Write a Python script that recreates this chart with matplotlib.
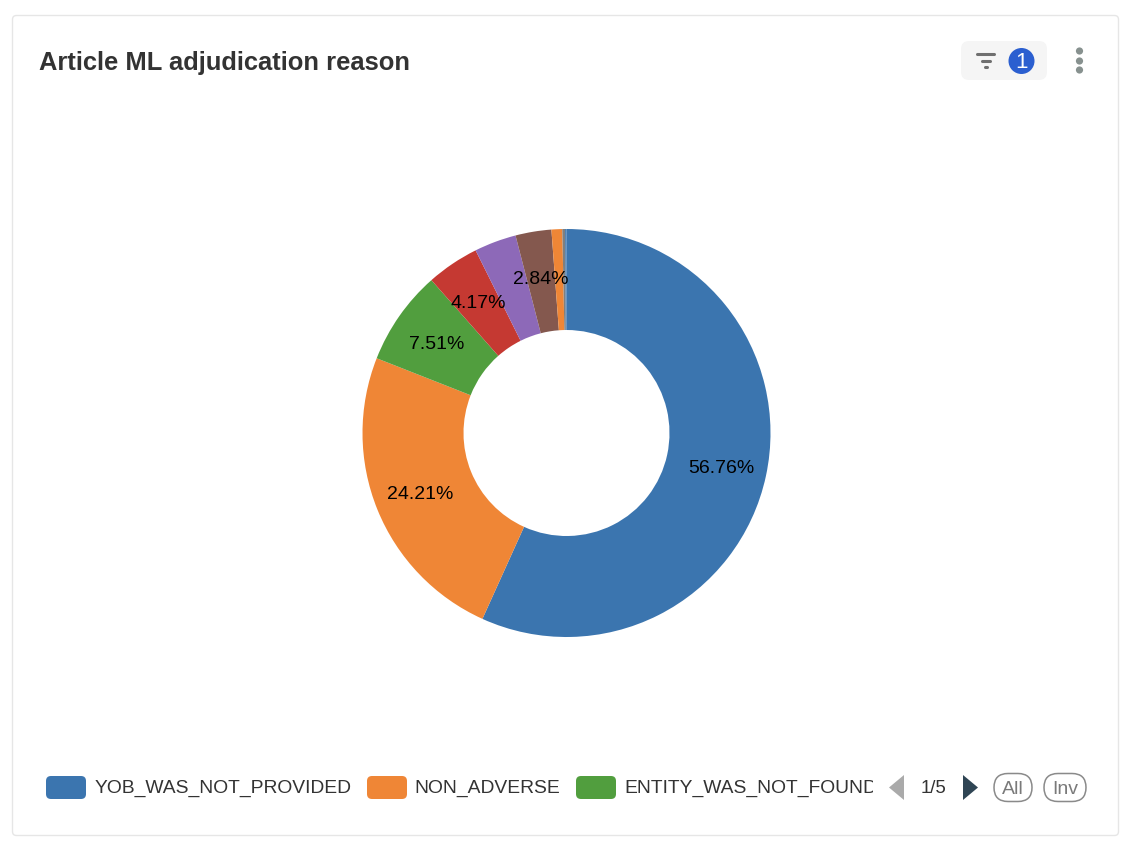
import math
import matplotlib
matplotlib.use("Agg")
import matplotlib.pyplot as plt
from matplotlib.patches import FancyBboxPatch, Rectangle, Circle, Polygon

plt.rcParams['font.family'] = ['Liberation Sans', 'DejaVu Sans']

W, H = 1132, 850

# Data
title = "Article ML adjudication reason"
shares = [56.76, 24.21, 7.51, 4.17, 3.33, 2.84, 0.85, 0.22, 0.11]
slice_labels = ["56.76%", "24.21%", "7.51%", "4.17%", "", "2.84%", "", "", ""]
slice_colors = ["#3b75af", "#ef8636", "#519e3e", "#c53932", "#8d69b8",
                "#84584e", "#ef8636", "#7f7f7f", "#3b75af"]
legend_names = ["YOB_WAS_NOT_PROVIDED", "NON_ADVERSE", "ENTITY_WAS_NOT_FOUND"]
legend_colors = ["#3b75af", "#ef8636", "#519e3e"]
page_text = "1/5"
filter_count = "1"

fig = plt.figure(figsize=(W / 100, H / 100), dpi=100, facecolor="white")

# page layer in pixel coordinates, y going down
bg = fig.add_axes([0, 0, 1, 1])
bg.set_xlim(0, W)
bg.set_ylim(H, 0)
bg.axis("off")


def rounded(ax, x, y, w, h, r, **kw):
    p = FancyBboxPatch((x + r, y + r), w - 2 * r, h - 2 * r,
                       boxstyle="round,pad=%s,rounding_size=%s" % (r, r), **kw)
    ax.add_patch(p)
    return p


# card
rounded(bg, 12.5, 15.5, 1106, 820, 4, fc="white", ec="#e6e6e6", lw=1)
bg.text(39, 62.5, title, fontsize=18.4, fontweight="bold", color="#333333", va="center", ha="left")

# filter button
rounded(bg, 961, 41, 86, 39, 8, fc="#f5f5f5", ec="none")
for y, x0, x1 in [(54, 977, 994), (60.5, 981.5, 990), (66.5, 984.5, 986.5)]:
    bg.plot([x0, x1], [y, y], color="#6f6f6f", lw=2.2, solid_capstyle="round")
bg.add_patch(Circle((1021.5, 61), 13, fc="#2b5fd0", ec="none"))
bg.text(1021.5, 62, filter_count, fontsize=16, color="white", ha="center", va="center")

# kebab menu
for y in [51, 61, 70]:
    bg.add_patch(Circle((1079.5, y), 3.6, fc="#87918f", ec="none"))

# legend
x_swatches = [46, 367, 576]
x_names = [95, 414.5, 624.5]
for i in range(len(legend_names)):
    rounded(bg, x_swatches[i], 776, 40, 23, 5, fc=legend_colors[i], ec="none")
    t = bg.text(x_names[i], 788, legend_names[i], fontsize=13.85, color="#333333",
                ha="left", va="center")
    if i == 2:
        # last name is cut off by the legend's scroll area
        t.set_clip_on(True)
        t.set_clip_path(Rectangle((x_names[i], 770), 248.5, 36, transform=bg.transData))

# pager
bg.add_patch(Polygon([[904, 775], [904, 800], [889, 787.5]], fc="#aaaaaa", ec="none"))
bg.add_patch(Polygon([[963, 775], [963, 800], [978, 787.5]], fc="#2f4554", ec="none"))
bg.text(933.5, 788.5, page_text, fontsize=13.4, color="#333333", ha="center", va="center")
rounded(bg, 994, 773.5, 38, 28, 14, fc="white", ec="#8a8a8a", lw=1.1)
bg.text(1013, 789, "All", fontsize=14, color="#7a7a7a", ha="center", va="center")
rounded(bg, 1044, 773.5, 42, 28, 14, fc="white", ec="#8a8a8a", lw=1.1)
bg.text(1065, 789, "Inv", fontsize=14, color="#7a7a7a", ha="center", va="center")

# donut, centred at (566.5, 433) with outer radius 204 px
cx, cy, r = 566.5, 433.0, 204.0
ax = fig.add_axes([(cx - r) / W, 1 - (cy + r) / H, 2 * r / W, 2 * r / H])
wedges, _ = ax.pie(shares, colors=slice_colors, startangle=90, counterclock=False,
                   radius=1.0, wedgeprops=dict(width=1 - 103.0 / 204.0, lw=0))
ax.set_xlim(-1, 1)
ax.set_ylim(-1, 1)

# slice labels sit a bit outside the middle of the ring
total = sum(shares)
done = 0
for s, lab in zip(shares, slice_labels):
    mid = 90 - (done + s / 2) / total * 360
    done += s
    if lab:
        rr = 158.0 / 204.0
        ax.text(rr * math.cos(math.radians(mid)), rr * math.sin(math.radians(mid)) - 2.0 / r, lab,
                fontsize=14, color="black", ha="center", va="center")

fig.savefig("out.png", dpi=100, facecolor="white")
